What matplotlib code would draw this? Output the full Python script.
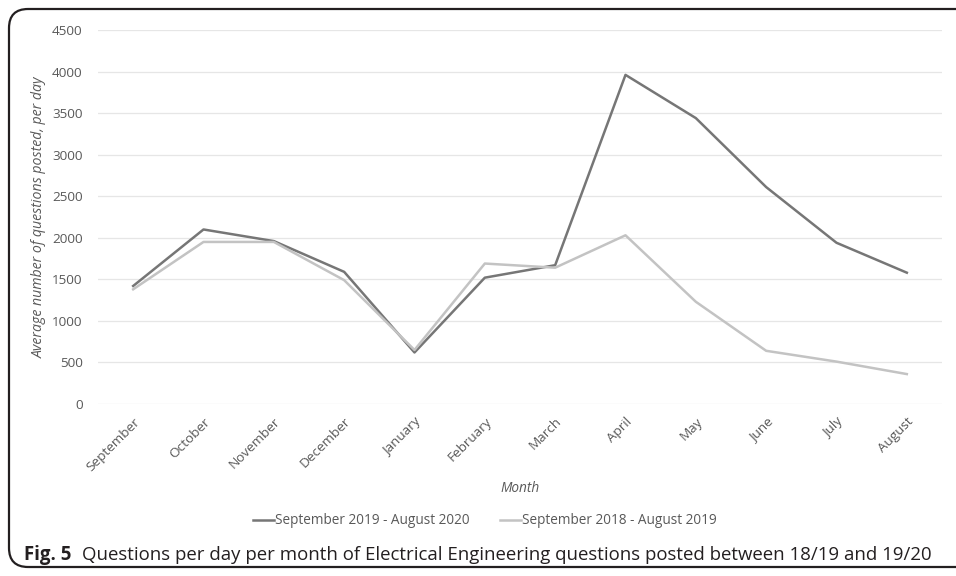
import matplotlib.pyplot as plt
from matplotlib.patches import FancyBboxPatch

months = ['September', 'October', 'November', 'December', 'January', 'February',
          'March', 'April', 'May', 'June', 'July', 'August']
y1920 = [1420, 2100, 1960, 1590, 620, 1520, 1670, 3960, 3440, 2610, 1940, 1580]
y1819 = [1380, 1950, 1950, 1490, 650, 1690, 1640, 2030, 1230, 640, 510, 360]
yticks = [0, 500, 1000, 1500, 2000, 2500, 3000, 3500, 4000, 4500]

plt.rcParams['font.family'] = ['Open Sans', 'DejaVu Sans']
W, H = 956, 576
fig = plt.figure(figsize=(W / 100, H / 100), dpi=100)

# plot area in pixels: x 98..942, y 30..404
ax = fig.add_axes([98 / W, 1 - 404 / H, (942 - 98) / W, (404 - 30) / H])
x = list(range(len(months)))
ax.plot(x, y1920, color='#767676', lw=1.8, label='September 2019 - August 2020')
ax.plot(x, y1819, color='#c3c3c3', lw=1.8, label='September 2018 - August 2019')
ax.set_xlim(-0.5, len(months) - 0.5)
ax.set_ylim(0, 4500)
ax.set_yticks(yticks)
ax.grid(axis='y', color='#e6e6e6', lw=0.9)
ax.set_axisbelow(True)
for s in ['top', 'right', 'left', 'bottom']:
    ax.spines[s].set_visible(False)
ax.tick_params(axis='both', length=0, colors='#595959', labelsize=9.7)
ax.tick_params(axis='y', pad=11)
ax.set_xticks(x)
ax.set_xticklabels(months, rotation=45, ha='right', rotation_mode='anchor')
ax.tick_params(axis='x', pad=8)
ax.set_ylabel('Average number of questions posted, per day', fontstyle='italic',
              color='#595959', fontsize=10.2, labelpad=4)

fig.text(520 / W, 1 - 489 / H, 'Month', fontstyle='italic', color='#595959',
         fontsize=9.8, ha='center', va='center')
fig.legend(loc='center', bbox_to_anchor=(485 / W, 1 - 521 / H), ncol=2, frameon=False,
           fontsize=9.8, handlelength=1.55, handletextpad=0.1, columnspacing=2.2,
           labelcolor='#595959')

fig.text(24 / W, 1 - 555 / H, 'Fig. 5', fontsize=13.4, fontweight='bold',
         ha='left', va='center', color='#231f20')
fig.text(82 / W, 1 - 555 / H,
         'Questions per day per month of Electrical Engineering questions posted between 18/19 and 19/20',
         fontsize=13.4, ha='left', va='center', color='#231f20')

box = FancyBboxPatch((9 / W, 9 / H), (W + 40) / W, (H - 18) / H,
                     boxstyle='round,pad=0,rounding_size=0.02',
                     transform=fig.transFigure, fill=False, ec='#231f20', lw=1.6,
                     mutation_aspect=W / H)
fig.patches.append(box)

fig.savefig('out.png', dpi=100)
